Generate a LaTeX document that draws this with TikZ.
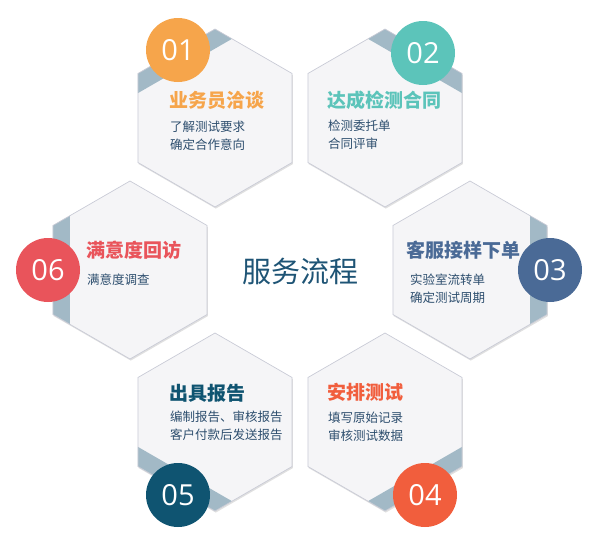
\documentclass[tikz,border=0pt]{standalone}
\usepackage{fontspec}
\setmainfont{Noto Sans CJK SC}
\newfontfamily\numfont{Open Sans}
\usetikzlibrary{positioning, calc}

\definecolor{hexfill}{HTML}{F5F5F7}
\definecolor{hexline}{HTML}{C9CBD6}
\definecolor{bandcol}{HTML}{A2B9C6}
\definecolor{stepA}{HTML}{F6A54B}
\definecolor{stepB}{HTML}{5CC4BA}
\definecolor{stepC}{HTML}{4A6A96}
\definecolor{stepD}{HTML}{F15E3D}
\definecolor{stepE}{HTML}{0F5471}
\definecolor{stepF}{HTML}{E9545B}
\definecolor{bodytext}{HTML}{2D4E6E}
\definecolor{hubtext}{HTML}{1E5475}

\newcommand{\hexr}{89}
\newcommand{\hexshape}[1]{(#1) +(30:\hexr) -- +(90:\hexr) -- +(150:\hexr) -- +(210:\hexr) -- +(270:\hexr) -- +(330:\hexr) -- cycle}

\begin{document}
\begin{tikzpicture}[x=1pt, y=-1pt,
  numdot/.style={circle, minimum size=64pt, inner sep=0pt, text=white, font=\numfont\fontsize{29}{29}\selectfont},
  steptitle/.style={anchor=west, inner sep=0pt, font=\bfseries\fontsize{19}{19}\selectfont},
  stepbody/.style={anchor=north west, inner sep=0pt, align=left, text=bodytext, font=\fontsize{12.5}{18}\selectfont}]
  \useasboundingbox (0,0) rectangle (600,546);

  % cell centres
  \coordinate (c1) at (215,118);
  \coordinate (c2) at (385,118);
  \coordinate (c3) at (470,270);
  \coordinate (c4) at (385,422);
  \coordinate (c5) at (215,422);
  \coordinate (c6) at (130,270);

  % hexagons with the coloured band on one edge
  \foreach \k in {1,...,6}{
    \pgfmathsetmacro{\bandA}{150+60*\k}
    \pgfmathsetmacro{\bandB}{210+60*\k}
    \fill[black!12] ([shift={(0.8,1.6)}]c\k) +(30:\hexr) -- +(90:\hexr) -- +(150:\hexr) -- +(210:\hexr) -- +(270:\hexr) -- +(330:\hexr) -- cycle;
    \fill[hexfill] \hexshape{c\k};
    \begin{scope}
      \clip \hexshape{c\k};
      \draw[bandcol, line width=34pt, line cap=rect] ($(c\k)+(\bandA:\hexr)$) -- ($(c\k)+(\bandB:\hexr)$);
    \end{scope}
    \draw[hexline, line width=0.7pt, line join=round] \hexshape{c\k};
  }

  % number discs
  \node[numdot, fill=stepA] (n1) at (178,50) {01};
  \node[numdot, fill=stepB] (n2) at (423,53) {02};
  \node[numdot, fill=stepC] (n3) at (550,270) {03};
  \node[numdot, fill=stepD] (n4) at (425,495) {04};
  \node[numdot, fill=stepE] (n5) at (178,495) {05};
  \node[numdot, fill=stepF] (n6) at (48,270) {06};

  % texts
  \node[steptitle, text=stepA] (t1) at (169,100) {业务员洽谈};
  \node[stepbody] (b1) at (170,121) {了解测试要求\\确定合作意向};
  \node[steptitle, text=stepB] (t2) at (327,100) {达成检测合同};
  \node[stepbody] (b2) at (328,120) {检测委托单\\合同评审};
  \node[steptitle, text=stepC] (t3) at (406,250) {客服接样下单};
  \node[stepbody] (b3) at (410,274) {实验室流转单\\确定测试周期};
  \node[steptitle, text=stepD] (t4) at (327,392) {安排测试};
  \node[stepbody] (b4) at (328,412) {填写原始记录\\审核测试数据};
  \node[steptitle, text=stepE] (t5) at (169,393) {出具报告};
  \node[stepbody] (b5) at (170,411) {编制报告、审核报告\\客户付款后发送报告};
  \node[steptitle, text=stepF] (t6) at (86,250) {满意度回访};
  \node[stepbody] (b6) at (87,274) {满意度调查};

  \node[text=hubtext, font=\fontsize{29}{29}\selectfont, inner sep=0pt] (hub) at (300,271) {服务流程};
\end{tikzpicture}
\end{document}
